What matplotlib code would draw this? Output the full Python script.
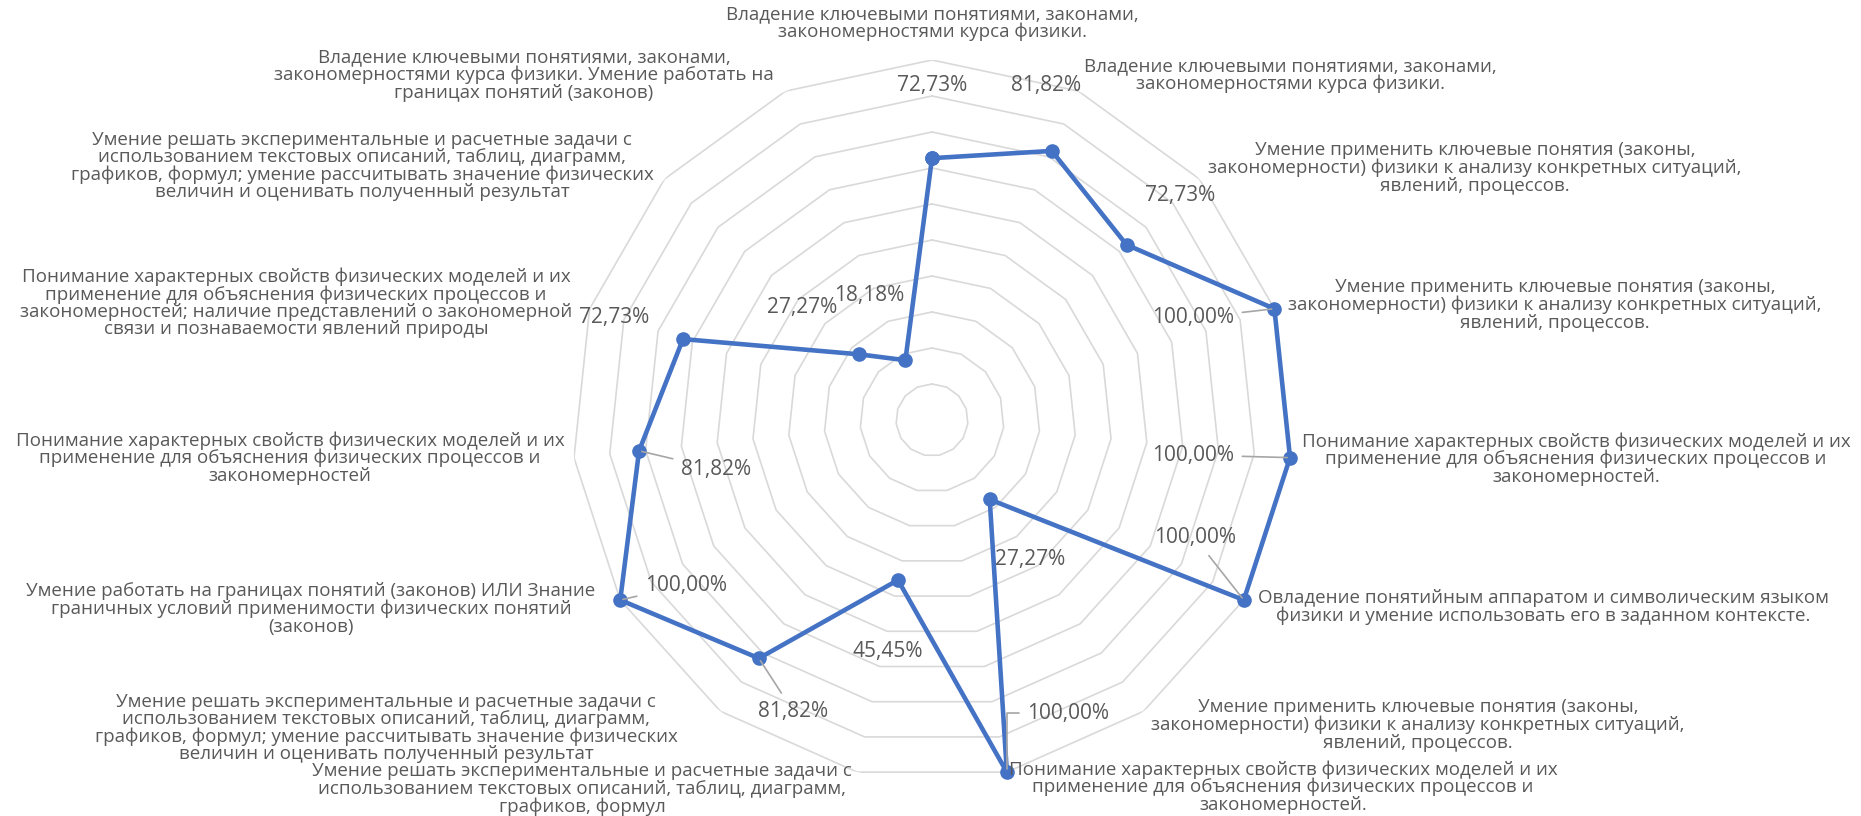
import numpy as np
import matplotlib
matplotlib.use("Agg")
import matplotlib.pyplot as plt

plt.rcParams["font.family"] = ["Open Sans", "DejaVu Sans"]

# категории (по часовой стрелке, начиная сверху)
categories = [
    "Владение ключевыми понятиями, законами,\nзакономерностями курса физики.",
    "Владение ключевыми понятиями, законами,\nзакономерностями курса физики.",
    "Умение применить ключевые понятия (законы,\nзакономерности) физики к анализу конкретных ситуаций,\nявлений, процессов.",
    "Умение применить ключевые понятия (законы,\nзакономерности) физики к анализу конкретных ситуаций,\nявлений, процессов.",
    "Понимание характерных свойств физических моделей и их\nприменение для объяснения физических процессов и\nзакономерностей.",
    "Овладение понятийным аппаратом и символическим языком\nфизики и умение использовать его в заданном контексте.",
    "Умение применить ключевые понятия (законы,\nзакономерности) физики к анализу конкретных ситуаций,\nявлений, процессов.",
    "Понимание характерных свойств физических моделей и их\nприменение для объяснения физических процессов и\nзакономерностей.",
    "Умение решать экспериментальные и расчетные задачи с\nиспользованием текстовых описаний, таблиц, диаграмм,\nграфиков, формул",
    "Умение решать экспериментальные и расчетные задачи с\nиспользованием текстовых описаний, таблиц, диаграмм,\nграфиков, формул; умение рассчитывать значение физических\nвеличин и оценивать полученный результат",
    "Умение работать на границах понятий (законов) ИЛИ Знание\nграничных условий применимости физических понятий\n(законов)",
    "Понимание характерных свойств физических моделей и их\nприменение для объяснения физических процессов и\nзакономерностей",
    "Понимание характерных свойств физических моделей и их\nприменение для объяснения физических процессов и\nзакономерностей; наличие представлений о закономерной\nсвязи и познаваемости явлений природы",
    "Умение решать экспериментальные и расчетные задачи с\nиспользованием текстовых описаний, таблиц, диаграмм,\nграфиков, формул; умение рассчитывать значение физических\nвеличин и оценивать полученный результат",
    "Владение ключевыми понятиями, законами,\nзакономерностями курса физики. Умение работать на\nграницах понятий (законов)",
]

values = [72.73, 81.82, 72.73, 100.00, 100.00, 100.00, 27.27, 100.00,
          45.45, 81.82, 100.00, 81.82, 72.73, 27.27, 18.18]

# позиции подписей категорий (центр блока текста, пиксели от левого верхнего угла)
cat_pos = [(932, 23), (1290, 75), (1475, 168), (1555, 305), (1576, 459),
           (1543, 607), (1418, 725), (1283, 787), (582, 789), (386, 728),
           (311, 609), (290, 458), (296, 303), (362, 166), (524, 75)]

# позиции подписей значений и наличие выносок
val_pos = [(932, 85), (1046, 85), (1180, 196), (1193, 318), (1193, 455),
           (1195, 538), (1030, 560), (1068, 713), (888, 652), (793, 711),
           (686, 585), (716, 469), (614, 318), (802, 307), (869, 296)]
leader = [False, False, False, True, True, True, False, True,
          False, True, True, True, False, False, False]

W, H = 1861, 816
fig = plt.figure(figsize=(W / 100, H / 100), dpi=100)

cx, cy, R = 932, 420, 360
ax = fig.add_axes([(cx - R) / W, (H - cy - R) / H, 2 * R / W, 2 * R / H],
                  projection="polar")
ax.set_theta_zero_location("N")
ax.set_theta_direction(-1)
ax.set_ylim(0, 100)
ax.set_xticks([])
ax.set_yticks([])
ax.grid(False)
ax.spines["polar"].set_visible(False)
ax.patch.set_alpha(0)

n = len(values)
theta = np.linspace(0, 2 * np.pi, n, endpoint=False)
theta_c = np.append(theta, theta[0])

for r in range(10, 101, 10):
    ax.plot(theta_c, [r] * (n + 1), color="#d9d9d9", lw=1.2, zorder=1)

vals_c = np.append(values, values[0])
ax.plot(theta_c, vals_c, color="#4472C4", lw=3.3, marker="o", ms=9.5,
        zorder=3, clip_on=False)

txt = "#595959"
for lab, (px, py) in zip(categories, cat_pos):
    fig.text(px / W, 1 - py / H, lab, ha="center", va="center",
             multialignment="center", fontsize=13.5, color=txt,
             linespacing=0.95)

for i, v in enumerate(values):
    s = f"{v:.2f}%".replace(".", ",")
    px, py = val_pos[i]
    props = None
    if leader[i]:
        props = dict(arrowstyle="-", color="#a6a6a6", lw=1.2,
                     shrinkA=4, shrinkB=2)
        if i == 7:
            props["connectionstyle"] = "angle,angleA=180,angleB=90,rad=0"
    ax.annotate(s, xy=(theta[i], v), xytext=(px, H - py),
                textcoords="figure pixels", ha="center", va="center",
                fontsize=15, color=txt, arrowprops=props, zorder=4,
                annotation_clip=False)

fig.savefig("out.png", dpi=100)
